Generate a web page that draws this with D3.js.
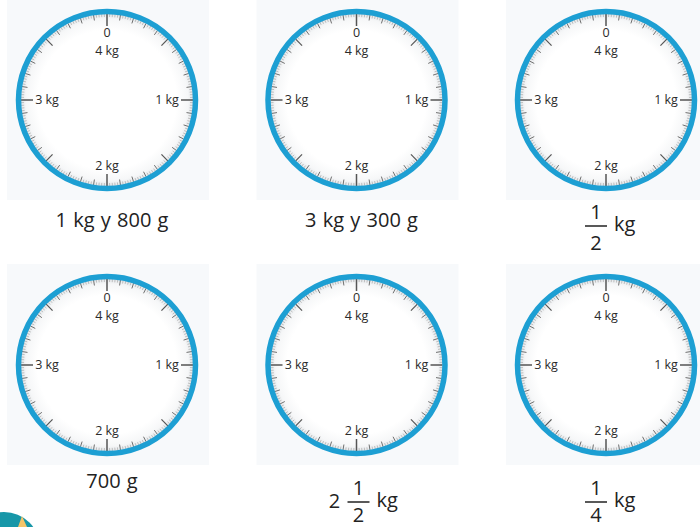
<!DOCTYPE html>
<html>
<head>
<meta charset="utf-8">
<script src="https://cdn.jsdelivr.net/npm/d3@7"></script>
<style>
  html, body { margin: 0; padding: 0; background: #ffffff; }
  svg { display: block; }
</style>
</head>
<body>
<svg id="chart" width="700" height="527"></svg>
<script>
// ---- data ----
const dialMaxGrams = 4000;                 // one full turn of the dial
const dialTickLabels = ["0", "1 kg", "2 kg", "3 kg"];
const dialTopInnerLabel = "4 kg";
const captionText  = ["1 kg y 800 g", "3 kg y 300 g", "kg", "700 g", "kg", "kg"];
const captionWhole = ["", "", "", "", "2", ""];
const captionNum   = ["", "", "1", "", "1", "1"];
const captionDen   = ["", "", "2", "", "2", "4"];

// ---- layout ----
const svg = d3.select("#chart");
const colX = d3.scalePoint().domain([0, 1, 2]).range([107, 606]);
const rowY = d3.scalePoint().domain([0, 1]).range([100, 365]);
const ringR = 88.5, faceR = 86;
const angle = d3.scaleLinear().domain([0, dialMaxGrams]).range([0, 2 * Math.PI]);
const font = "'Open Sans', 'Noto Sans', sans-serif";

const defs = svg.append("defs");
const grad = defs.append("radialGradient").attr("id", "face");
grad.append("stop").attr("offset", "80%").attr("stop-color", "#ffffff");
grad.append("stop").attr("offset", "93%").attr("stop-color", "#f6f7f8");
grad.append("stop").attr("offset", "100%").attr("stop-color", "#e2e5e8");

const tickGrams = d3.range(0, dialMaxGrams, 20);
function tickLen(g) {
  if (g % 1000 === 0) return 12;
  if (g % 500 === 0) return 9;
  if (g % 100 === 0) return 5.5;
  return 3;
}
function tickW(g) {
  if (g % 1000 === 0) return 1.5;
  if (g % 500 === 0) return 1.2;
  if (g % 100 === 0) return 1;
  return 0.7;
}
function tickC(g) {
  if (g % 500 === 0) return "#555";
  return g % 100 === 0 ? "#707070" : "#a8a8a8";
}

const dialIdx = d3.range(captionText.length);

dialIdx.forEach(i => {
  const cx = colX(i % 3), cy = rowY(Math.floor(i / 3));
  const g = svg.append("g").attr("transform", `translate(${cx},${cy})`);

  // faint backdrop
  g.append("rect").attr("x", -100).attr("y", -101).attr("width", 202).attr("height", 201)
    .attr("fill", "#f7f9fb");

  g.append("circle").attr("r", faceR + 1).attr("fill", "url(#face)");

  g.selectAll("line.tick").data(tickGrams).join("line")
    .attr("class", "tick")
    .attr("x1", d => Math.sin(angle(d)) * faceR)
    .attr("y1", d => -Math.cos(angle(d)) * faceR)
    .attr("x2", d => Math.sin(angle(d)) * (faceR - tickLen(d)))
    .attr("y2", d => -Math.cos(angle(d)) * (faceR - tickLen(d)))
    .attr("stroke", d => tickC(d))
    .attr("stroke-width", d => tickW(d));

  g.append("circle").attr("r", ringR).attr("fill", "none")
    .attr("stroke", "#1d9fd3").attr("stroke-width", 5.5);

  // dial labels
  const labPos = [[0, -63], [60, 4], [0, 70], [-60, 4]];
  g.selectAll("text.lab").data(dialTickLabels).join("text")
    .attr("class", "lab")
    .attr("x", (d, k) => labPos[k][0])
    .attr("y", (d, k) => labPos[k][1])
    .attr("text-anchor", "middle")
    .attr("font-family", font).attr("font-size", 12.5).attr("fill", "#2b2b2b")
    .text(d => d);
  g.append("text").attr("x", 0).attr("y", -45)
    .attr("text-anchor", "middle")
    .attr("font-family", font).attr("font-size", 12.5).attr("fill", "#2b2b2b")
    .text(dialTopInnerLabel);
});

// captions
dialIdx.forEach(i => {
  const row = Math.floor(i / 3);
  const cx = colX(i % 3) + 5;
  const g = svg.append("g").attr("font-family", font).attr("fill", "#222");
  if (!captionNum[i]) {
    g.append("text").attr("x", cx).attr("y", row === 0 ? 227 : 488)
      .attr("text-anchor", "middle").attr("font-size", 20).attr("word-spacing", 1)
      .text(captionText[i]);
  } else {
    const lineY = row === 0 ? 226 : 502;
    const hasWhole = captionWhole[i] !== "";
    const fracCx = hasWhole ? cx - 3 : cx - 15;
    if (hasWhole) {
      g.append("text").attr("x", fracCx - 24).attr("y", lineY + 6)
        .attr("text-anchor", "middle").attr("font-size", 20).text(captionWhole[i]);
    }
    g.append("line").attr("x1", fracCx - 11).attr("x2", fracCx + 11)
      .attr("y1", lineY).attr("y2", lineY).attr("stroke", "#222").attr("stroke-width", 1.5);
    g.append("text").attr("x", fracCx).attr("y", lineY - 7)
      .attr("text-anchor", "middle").attr("font-size", 20).text(captionNum[i]);
    g.append("text").attr("x", fracCx).attr("y", Math.min(lineY + 24, 522))
      .attr("text-anchor", "middle").attr("font-size", 20).text(captionDen[i]);
    g.append("text").attr("x", fracCx + 18).attr("y", lineY + 5)
      .attr("text-anchor", "start").attr("font-size", 20).text(captionText[i]);
  }
});

// decorative corner badge
svg.append("circle").attr("cx", 4).attr("cy", 548).attr("r", 36).attr("fill", "#1797a8");
svg.append("path").attr("d", "M18,527 L22,516 L27,527 Z").attr("fill", "#f4c56a");
</script>
</body>
</html>
